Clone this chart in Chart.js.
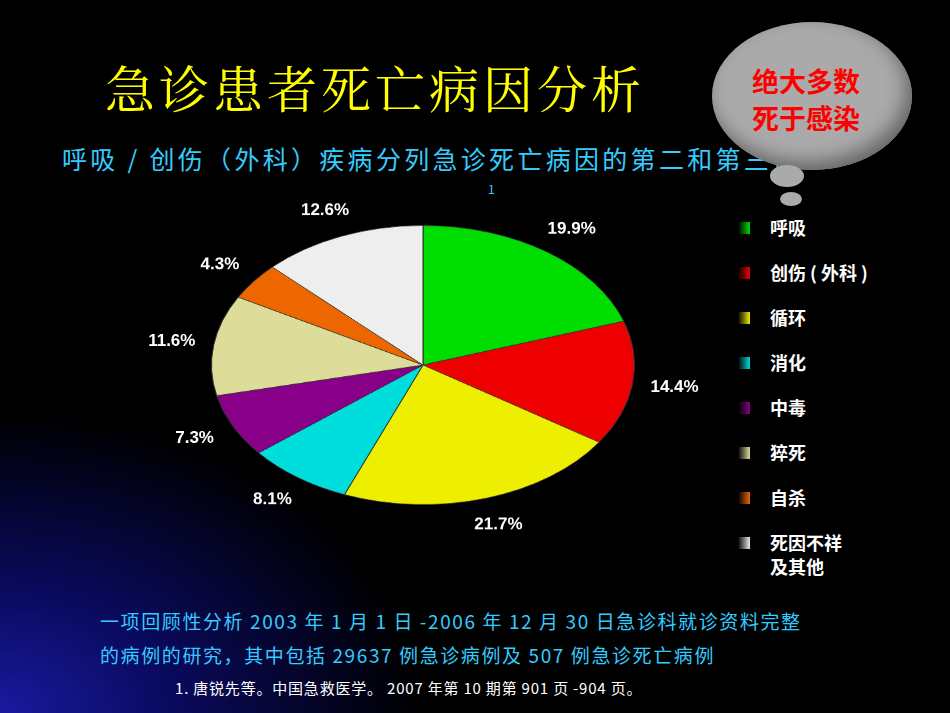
<!DOCTYPE html><html><head><meta charset="utf-8">
<script src="https://cdn.jsdelivr.net/npm/chart.js@4"></script>
<style>
body{margin:0;width:950px;height:713px;overflow:hidden;background:#000;font-family:"Noto Sans CJK SC",sans-serif;}
#bg{position:absolute;left:0;top:0;width:950px;height:713px;background:radial-gradient(ellipse 420px 300px at 0px 713px,#1a1aa0 0%,#0a0a60 40%,#000 100%);}
#title{position:absolute;left:105px;top:50px;color:#ffff00;font-size:50px;letter-spacing:4px;font-family:"Noto Serif CJK SC","Noto Sans CJK SC",serif;}
#sub{position:absolute;left:62px;top:140px;color:#33ccff;font-size:25px;letter-spacing:3.3px;white-space:nowrap;}
#one{position:absolute;left:488px;top:180px;color:#33ccff;font-size:12px;}
#cloud{position:absolute;left:712px;top:22px;width:200px;height:148px;background:#aaa;border-radius:50%;box-shadow:inset -6px -8px 18px #666;}
#cloudtxt{position:absolute;left:752px;top:62px;color:#ff0000;font-size:27px;line-height:37px;font-weight:bold;}
.dot{position:absolute;background:#aaa;border-radius:50%;}
#wrap{position:absolute;left:143px;top:85px;width:560px;height:560px;transform:scaleY(0.66);transform-origin:280px 280px;}
#legend{position:absolute;left:738px;top:215px;width:200px;color:#fff;font-size:18px;font-weight:bold;}
.li{position:relative;height:45px;white-space:nowrap;}
.sw{position:absolute;left:0;top:7px;width:12px;height:12px;}
.lt{position:absolute;left:32px;top:0;line-height:24px;}
#bot{position:absolute;left:100px;top:604px;color:#33ccff;font-size:19px;line-height:34px;letter-spacing:1.6px;white-space:nowrap;}
#ref{position:absolute;left:175px;top:677px;color:#fff;font-size:15px;letter-spacing:0.8px;white-space:nowrap;}
</style></head><body>
<div id="bg"></div>
<div id="title">急诊患者死亡病因分析</div>
<div id="sub">呼吸 / 创伤（外科）疾病分列急诊死亡病因的第二和第三位</div>
<div id="one">1</div>
<div id="cloud"></div>
<div class="dot" style="left:770px;top:165px;width:34px;height:22px"></div>
<div class="dot" style="left:780px;top:192px;width:22px;height:14px"></div>
<div id="cloudtxt">绝大多数<br>死于感染</div>
<div id="wrap"><canvas id="c" width="560" height="560"></canvas></div>
<div id="legend"></div>
<div id="bot">一项回顾性分析 2003 年 1 月 1 日 -2006 年 12 月 30 日急诊科就诊资料完整<br>的病例的研究，其中包括 29637 例急诊病例及 507 例急诊死亡病例</div>
<div id="ref">1. 唐锐先等。中国急救医学。 2007 年第 10 期第 901 页 -904 页。</div>
<script>
const categories=["呼吸","创伤（外科）","循环","消化","中毒","猝死","自杀","死因不祥及其他"];
const legendLabels=["呼吸","创伤 ( 外科 )","循环","消化","中毒","猝死","自杀","死因不祥<br>及其他"];
const values=[19.9,14.4,21.7,8.1,7.3,11.6,4.3,12.6];
const colors=["#00dd00","#ee0000","#eeee00","#00dddd","#880088","#dddd99","#ee6600","#eeeeee"];
const lg=document.getElementById('legend');
legendLabels.forEach((l,i)=>{lg.innerHTML+=`<div class="li"><div class="sw" style="background:linear-gradient(90deg,#000,${colors[i]})"></div><div class="lt">${l}</div></div>`;});
const K=0.66;
const labelPlugin={id:'lbl',afterDatasetsDraw(chart){
 const ctx=chart.ctx;const meta=chart.getDatasetMeta(0);
 meta.data.forEach((a,i)=>{const ang=(a.startAngle+a.endAngle)/2;const r=a.outerRadius*1.2;
  const x=a.x+Math.cos(ang)*r,y=a.y+Math.sin(ang)*r;
  ctx.save();ctx.translate(x,y);ctx.scale(1,1/K);ctx.fillStyle='#fff';ctx.font='bold 17px "Liberation Sans",Arial';
  ctx.textAlign='center';ctx.textBaseline='middle';ctx.fillText(values[i].toFixed(1)+'%',0,0);ctx.restore();});
}};
new Chart(document.getElementById('c'),{type:'pie',
 data:{labels:categories,datasets:[{data:values,backgroundColor:colors,borderColor:'#333',borderWidth:1}]},
 options:{responsive:false,animation:false,layout:{padding:68},plugins:{legend:{display:false},tooltip:{enabled:false}}},
 plugins:[labelPlugin]});
</script></body></html>
